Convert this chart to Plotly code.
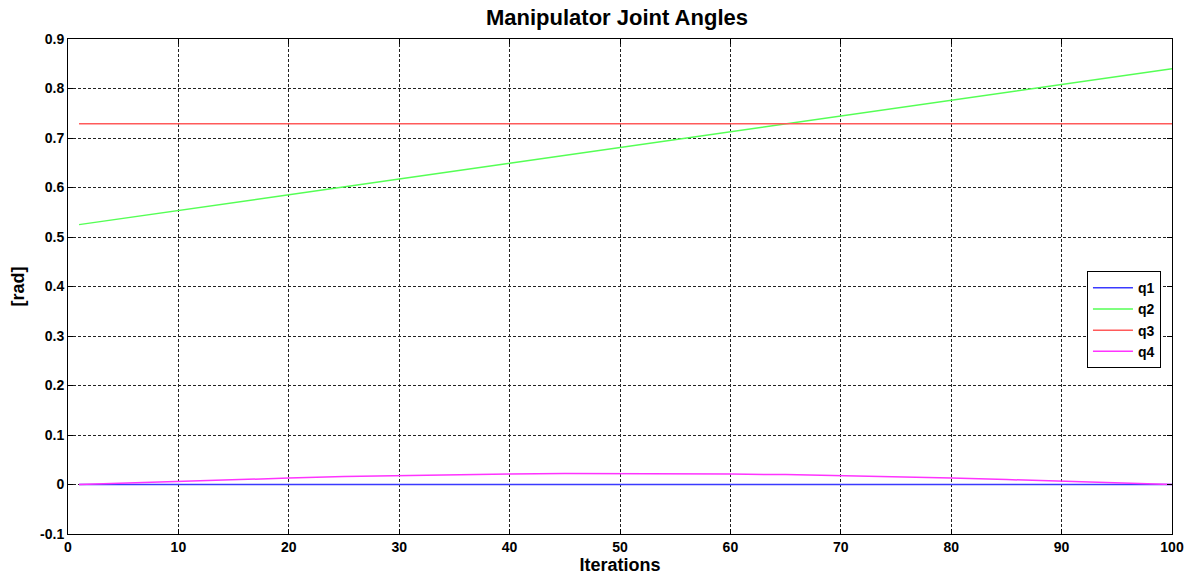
import plotly.graph_objects as go

# Data (iterations 1..100)
key_x = [1, 10, 20, 30, 40, 50, 60, 70, 80, 90, 100]
q1_vals = [0, 0, 0, 0, 0, 0, 0, 0, 0, 0, 0]
q2_vals = [0.525, 0.554, 0.586, 0.617, 0.649, 0.681, 0.713, 0.745, 0.776, 0.808, 0.840]
q3_vals = [0.729, 0.729, 0.729, 0.729, 0.729, 0.729, 0.729, 0.729, 0.729, 0.729, 0.729]
q4_x = [1, 5, 10, 15, 20, 25, 30, 35, 40, 45, 50, 55, 60, 65, 70, 75, 80, 85, 90, 95, 100]
q4_vals = [0.0, 0.003, 0.007, 0.010, 0.013, 0.016, 0.018, 0.020, 0.021, 0.022, 0.022,
           0.022, 0.021, 0.020, 0.018, 0.016, 0.013, 0.010, 0.007, 0.003, 0.0]

x_ticks = [0, 10, 20, 30, 40, 50, 60, 70, 80, 90, 100]
y_ticks = [-0.1, 0, 0.1, 0.2, 0.3, 0.4, 0.5, 0.6, 0.7, 0.8, 0.9]
y_labels = ["-0.1", "0", "0.1", "0.2", "0.3", "0.4", "0.5", "0.6", "0.7", "0.8", "0.9"]

FONT = "Liberation Sans, Arial, sans-serif"

fig = go.Figure()
fig.add_trace(go.Scatter(x=key_x, y=q1_vals, mode="lines", name="q1",
                         line=dict(color="#3a3aff", width=1.5)))
fig.add_trace(go.Scatter(x=key_x, y=q2_vals, mode="lines", name="q2",
                         line=dict(color="#55ff55", width=1.5)))
fig.add_trace(go.Scatter(x=key_x, y=q3_vals, mode="lines", name="q3",
                         line=dict(color="#ff5a5a", width=1.5)))
fig.add_trace(go.Scatter(x=q4_x, y=q4_vals, mode="lines", name="q4",
                         line=dict(color="#ff33ff", width=1.5)))

axis_common = dict(
    showline=True, linecolor="black", linewidth=1, mirror="ticks",
    ticks="inside", ticklen=5, tickcolor="black", tickwidth=1,
    showgrid=True, gridcolor="#222222", gridwidth=1, griddash="3px,2px",
    zeroline=False, automargin=False,
    tickfont=dict(family=FONT, size=14, color="black", weight="bold"),
)

fig.update_layout(
    width=1192, height=579,
    margin=dict(l=68, r=20, t=39, b=45),
    paper_bgcolor="white", plot_bgcolor="white",
    title=dict(text="<b>Manipulator Joint Angles</b>", x=617 / 1192, xanchor="center",
               y=1 - 17 / 579, yanchor="middle",
               font=dict(family=FONT, size=22, color="black")),
    xaxis=dict(range=[0, 100], tickvals=x_ticks,
               title=dict(text="<b>Iterations</b>", standoff=3,
                          font=dict(family=FONT, size=18, color="black")),
               **axis_common),
    yaxis=dict(range=[-0.1, 0.9], tickvals=y_ticks, ticktext=y_labels,
               title=dict(text="<b>[rad]</b>", standoff=10,
                          font=dict(family=FONT, size=18, color="black")),
               **axis_common),
    legend=dict(x=0.99, y=0.531, xanchor="right", yanchor="top",
                bgcolor="white", bordercolor="black", borderwidth=1,
                font=dict(family=FONT, size=14, color="black", weight="bold"),
                tracegroupgap=0, itemwidth=40),
    showlegend=True,
)

fig.write_html("out.html", config={"displayModeBar": False},
               post_script="document.body.style.margin='0';")
